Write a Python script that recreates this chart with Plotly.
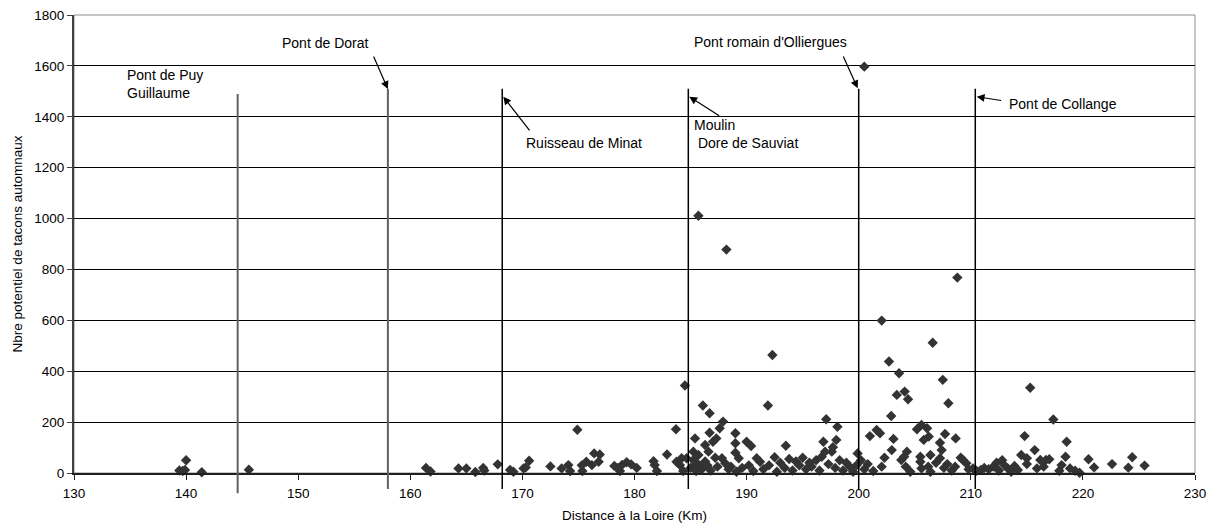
import plotly.graph_objects as go

# ---- data ----
distance_km = [
    139.4, 139.7, 139.9, 140.0, 141.4, 145.6,
    161.4, 161.8, 164.3, 165.0, 165.8, 166.5, 166.6, 167.8, 168.9, 169.2, 170.1, 170.3, 170.6,
    172.5, 173.5, 174.1, 174.25, 174.9, 175.3, 175.35, 175.7, 176.2, 176.4, 176.9, 176.8,
    178.2, 178.5, 178.7, 178.9, 179.3, 179.7, 180.2, 181.7, 181.8, 182.0, 182.9, 183.7,
    183.75, 184.05, 184.2, 184.35, 184.5,
    184.65, 185.0, 185.25, 185.25, 185.3, 185.4, 185.4, 185.5, 185.7, 185.7, 185.8, 186.1,
    186.0, 186.3, 186.3, 186.6, 186.5, 186.7, 186.7, 186.8, 187.0, 187.2, 187.3, 187.4,
    187.6, 187.8, 187.9, 188.1, 188.2, 188.4, 188.6, 189.0, 189.0, 189.0, 189.1, 189.3,
    189.6, 190.0, 190.4, 190.2, 190.6,
    190.9, 191.2, 191.5, 191.9, 192.0, 192.3, 192.5, 192.7, 193.0, 193.5, 193.4, 193.8,
    194.1, 194.4, 194.7, 195.0, 195.3, 195.6, 195.8, 196.2, 196.5, 196.7, 196.85, 197.0,
    197.1, 197.3, 197.6, 197.7, 197.9, 198.0, 198.1, 198.3, 198.6, 198.9, 199.2, 199.5,
    199.9, 199.8,
    200.2, 200.5, 200.5, 200.8, 201.0, 201.3, 201.6, 201.9, 202.05, 202.05, 202.3, 202.7,
    202.9, 202.95, 203.1, 203.4, 203.6, 203.8, 204.05, 204.1, 204.2, 204.3, 204.4, 204.6,
    205.2, 205.5, 205.5, 205.6, 205.6, 205.8, 206.1, 206.25, 206.4, 206.2, 206.4, 206.6,
    206.9, 207.25, 207.25, 207.4, 207.5, 207.7, 207.6, 208.0, 207.9, 208.3, 208.65, 208.8,
    208.6, 209.1, 209.3, 209.6, 209.8, 210.2, 210.5,
    210.9, 211.2, 211.6, 212.0, 212.3, 212.5, 212.8, 213.0, 213.3, 213.6, 213.9, 214.2,
    214.5, 214.8, 215.0, 215.0, 215.3, 215.7, 215.9, 216.2, 216.5, 216.7, 217.0, 217.36,
    217.9, 218.1, 218.45, 218.55, 218.85, 219.3, 219.7, 220.5, 221.0, 222.6, 224.05,
    224.4, 225.5,
]
tacons = [
    10, 8, 12, 50, 3, 13,
    20, 6, 18, 18, 4, 20, 10, 34, 12, 5, 18, 22, 48,
    26, 18, 31, 8, 170, 30, 8, 44, 31, 77, 73, 44,
    28, 20, 8, 32, 42, 34, 20, 46, 31, 8, 73, 172,
    44, 31, 58, 8, 344,
    58, 20, 84, 51, 25, 136, 44, 8, 71, 1011, 30, 265,
    15, 110, 45, 84, 30, 158, 235, 10, 123, 60, 136, 25,
    176, 58, 202, 38, 878, 15, 25, 156, 117, 80, 5, 58,
    20, 123, 106, 30, 8,
    58, 44, 15, 265, 30, 464, 62, 5, 40, 107, 20, 55,
    10, 45, 30, 60, 15, 40, 25, 50, 10, 64, 123, 84,
    211, 35, 84, 101, 20, 130, 182, 50, 10, 40, 25, 5,
    77, 30,
    50, 1597, 15, 35, 145, 8, 169, 156, 599, 25, 60, 438,
    224, 90, 134, 307, 392, 51, 64, 320, 25, 84, 290, 5,
    172, 64, 44, 18, 189, 130, 176, 143, 71, 25, 5, 512,
    40, 119, 58, 90, 366, 153, 20, 274, 35, 10, 136, 768,
    25, 60, 51, 38, 15, 18, 9,
    12, 20, 15, 25, 40, 10, 50, 30, 18, 5, 28, 12,
    71, 145, 58, 35, 335, 90, 18, 51, 25, 51, 54, 210,
    9, 31, 64, 123, 18, 9, 1, 54, 22, 35, 21,
    62, 29,
]

# landmarks (obstacles) along the river
landmark_km = [144.6, 158.0, 168.2, 184.8, 200.0, 210.4]
landmark_top = [1490, 1510, 1510, 1510, 1510, 1510]

label_texts = ["Pont de Puy<br>Guillaume", "Pont de Dorat", "Ruisseau de Minat",
               "Moulin<br>\u00a0Dore de Sauviat", "Pont romain d'Olliergues", "Pont de Collange"]
label_x = [134.55, 148.38, 170.14, 185.16, 185.16, 213.26]
label_y = [1527, 1690, 1298, 1334, 1694, 1449]

# arrows: head (x, y) and tail (x, y)
arrow_head_x = [158.0, 168.3, 184.89, 199.91, 210.53]
arrow_head_y = [1509, 1479, 1479, 1512, 1479]
arrow_tail_x = [156.67, 170.74, 187.69, 198.57, 212.84]
arrow_tail_y = [1643, 1341, 1400, 1643, 1463]

x_ticks = [130, 140, 150, 160, 170, 180, 190, 200, 210, 220, 230]
y_ticks = [0, 200, 400, 600, 800, 1000, 1200, 1400, 1600, 1800]

FONT = "Liberation Sans, Arial, sans-serif"

fig = go.Figure()
fig.add_trace(go.Scatter(
    x=distance_km, y=tacons, mode="markers",
    marker=dict(symbol="diamond", size=8, color="#333333", line=dict(width=0)),
    cliponaxis=False, showlegend=False, hoverinfo="x+y",
))

shapes = []
for i, (xk, top) in enumerate(zip(landmark_km, landmark_top)):
    grey = i < 2
    shapes.append(dict(
        type="line", xref="x", yref="y domain",
        x0=xk, x1=xk, y0=-0.044 if i == 0 else -0.035, y1=top / 1800,
        line=dict(color="#606060" if grey else "#000000", width=2 if grey else 1.5),
        layer="above",
    ))
# plot-area border (grey top and right)
shapes.append(dict(type="rect", xref="x domain", yref="y domain", x0=0, x1=1, y0=0, y1=1,
                   line=dict(color="#8c8c8c", width=1), layer="below"))

annotations = []
for t, xx, yy in zip(label_texts, label_x, label_y):
    annotations.append(dict(
        x=xx, y=yy, xref="x", yref="y", text=t, showarrow=False,
        xanchor="left", yanchor="middle", align="left",
        font=dict(family=FONT, size=14, color="#000000"),
    ))
for hx, hy, tx, ty in zip(arrow_head_x, arrow_head_y, arrow_tail_x, arrow_tail_y):
    annotations.append(dict(
        x=hx, y=hy, xref="x", yref="y", ax=tx, ay=ty, axref="x", ayref="y",
        text="", showarrow=True, arrowhead=2, arrowsize=1.3, arrowwidth=1.2,
        arrowcolor="#000000", standoff=0, startstandoff=0,
    ))

fig.update_layout(
    width=1216, height=526,
    margin=dict(l=74, r=21, t=15, b=53, pad=0),
    paper_bgcolor="white", plot_bgcolor="white",
    font=dict(family=FONT, size=13.5, color="#000000"),
    shapes=shapes, annotations=annotations,
    xaxis=dict(
        range=[130, 230], tickvals=x_ticks, ticktext=[str(v) for v in x_ticks],
        showgrid=False, zeroline=False,
        showline=True, linecolor="#202020", linewidth=2,
        ticks="outside", ticklen=5, tickcolor="#202020", tickwidth=1,
        ticklabelstandoff=2,
        tickfont=dict(family=FONT, size=13.5, color="#000000"),
        title=dict(text="Distance à la Loire (Km)", standoff=10,
                   font=dict(family=FONT, size=13.5, color="#000000")),
        automargin=False,
    ),
    yaxis=dict(
        range=[0, 1800], tickvals=y_ticks, ticktext=[str(v) for v in y_ticks],
        showgrid=True, gridcolor="#000000", gridwidth=1, zeroline=False,
        showline=True, linecolor="#404040", linewidth=2,
        ticks="outside", ticklen=5, tickcolor="#404040", tickwidth=1,
        tickfont=dict(family=FONT, size=13.5, color="#000000"),
        title=dict(text="Nbre potentiel de tacons automnaux", standoff=9,
                   font=dict(family=FONT, size=13.5, color="#000000")),
        automargin=False,
    ),
)

fig.write_html("out.html")
